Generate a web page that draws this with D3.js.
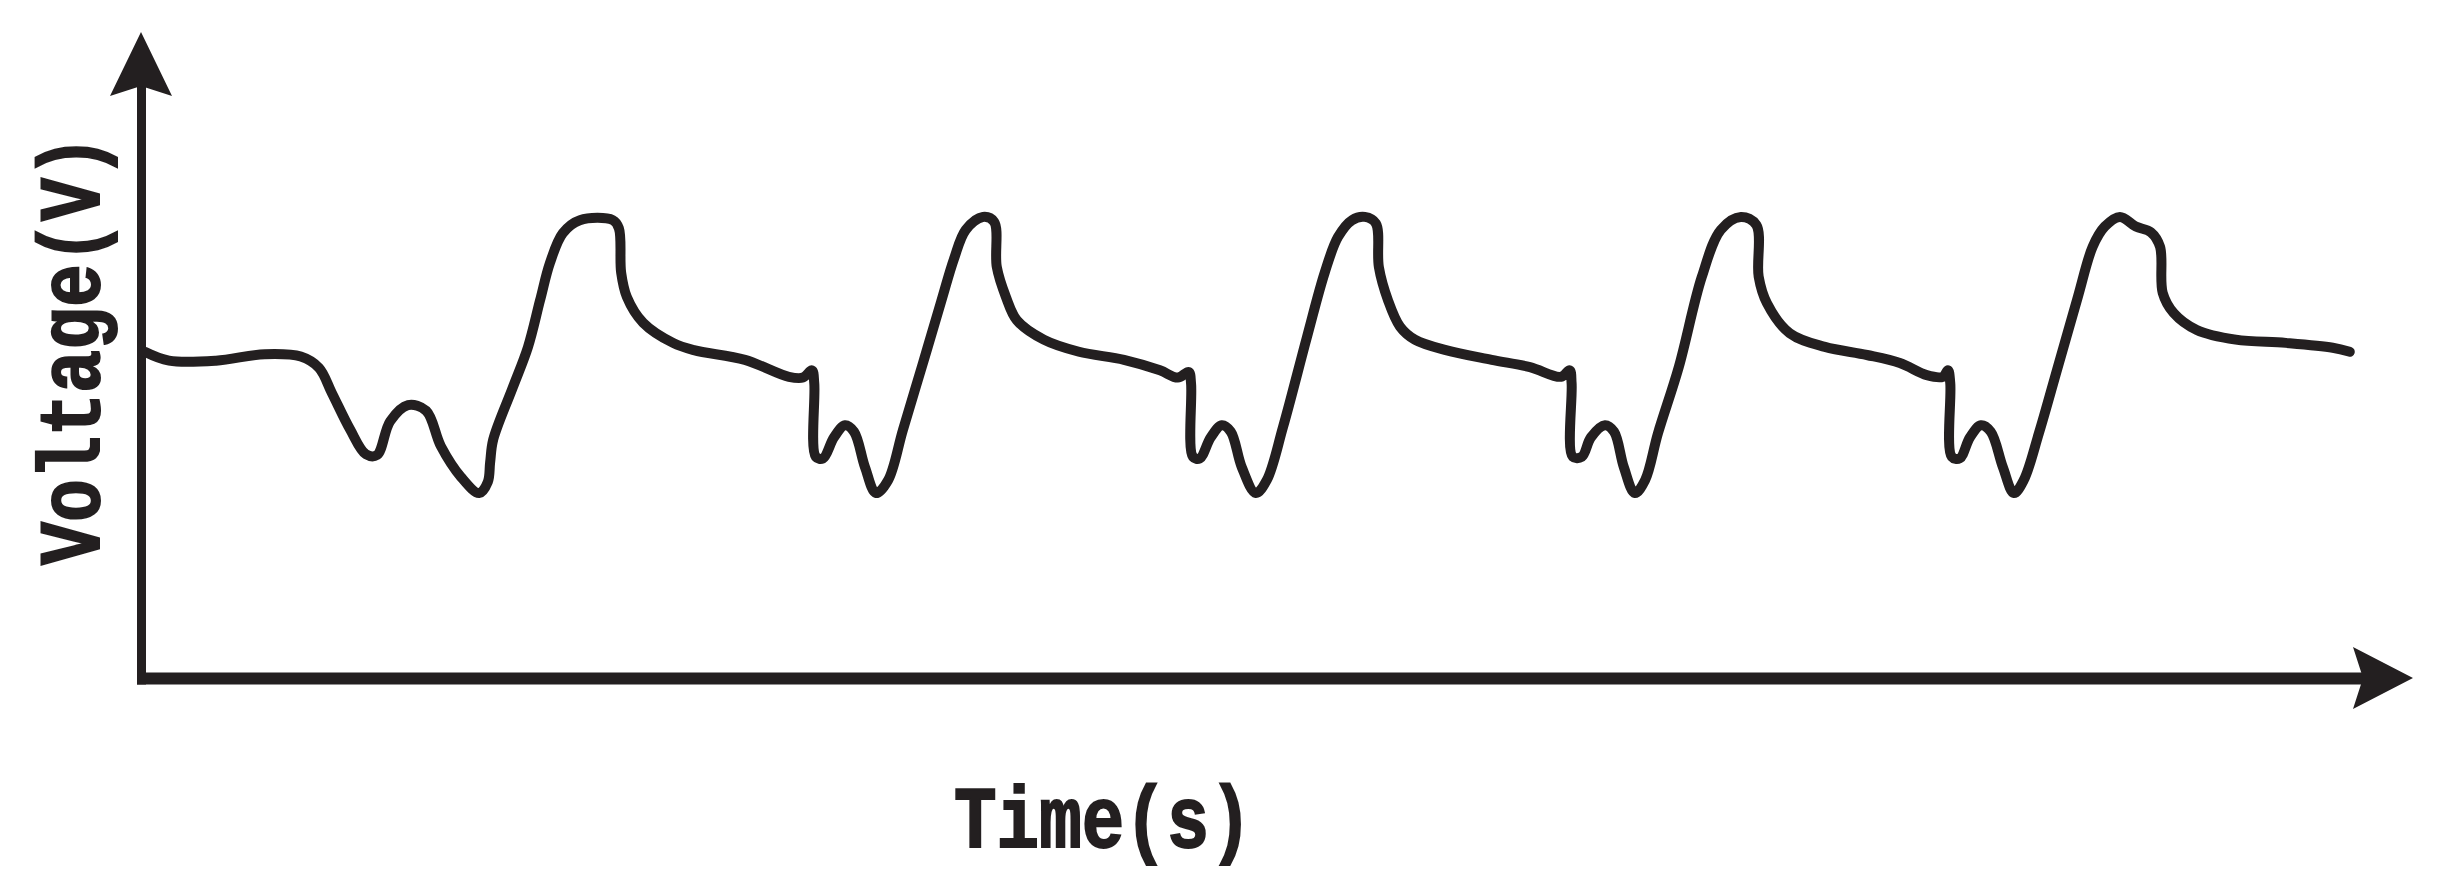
<!DOCTYPE html>
<html>
<head>
<meta charset="utf-8">
<script src="https://cdn.jsdelivr.net/npm/d3@7"></script>
<style>
  body { margin: 0; background: #fff; }
  svg { display: block; }
</style>
</head>
<body>
<div id="chart"></div>
<script>
// waveform (time in s, voltage in V, arbitrary units)
const timeS = [
  0.010, 0.074, 0.198, 0.327, 0.422, 0.470, 0.504, 0.552, 0.594, 0.623,
  0.658, 0.705, 0.753, 0.792, 0.845, 0.893, 0.916, 0.922, 0.930, 0.982,
  1.022, 1.054, 1.080, 1.114, 1.159, 1.246, 1.262, 1.268, 1.283, 1.326,
  1.405, 1.460, 1.595, 1.711, 1.748, 1.772, 1.778, 1.782, 1.801, 1.830,
  1.859, 1.883, 1.912, 1.941, 1.973, 2.012, 2.065, 2.113, 2.147, 2.178,
  2.223, 2.253, 2.260, 2.284, 2.313, 2.384, 2.477, 2.596, 2.691, 2.738,
  2.767, 2.773, 2.778, 2.796, 2.825, 2.854, 2.878, 2.907, 2.944, 2.973,
  3.016, 3.079, 3.126, 3.161, 3.198, 3.232, 3.261, 3.269, 3.293, 3.325,
  3.364, 3.446, 3.567, 3.668, 3.750, 3.773, 3.778, 3.781, 3.805, 3.829,
  3.866, 3.890, 3.916, 3.945, 3.972, 4.006, 4.061, 4.122, 4.172, 4.225,
  4.266, 4.272, 4.294, 4.354, 4.447, 4.558, 4.645, 4.716, 4.758, 4.772,
  4.778, 4.782, 4.803, 4.830, 4.859, 4.885, 4.917, 4.946, 4.972, 5.012,
  5.062, 5.115, 5.154, 5.186, 5.226, 5.268, 5.308, 5.332, 5.339, 5.368,
  5.429, 5.532, 5.664, 5.788, 5.833
];
const voltageV = [
  4.04, 3.93, 3.93, 4.01, 3.98, 3.84, 3.53, 3.08, 2.77, 2.76,
  3.18, 3.38, 3.31, 2.87, 2.49, 2.29, 2.43, 2.67, 2.95, 3.60,
  4.10, 4.68, 5.14, 5.51, 5.67, 5.67, 5.57, 5.02, 4.72, 4.40,
  4.15, 4.06, 3.94, 3.73, 3.72, 3.81, 3.65, 2.74, 2.72, 2.98,
  3.13, 3.05, 2.61, 2.29, 2.45, 3.07, 3.90, 4.66, 5.19, 5.55,
  5.71, 5.65, 5.09, 4.72, 4.43, 4.19, 4.04, 3.94, 3.81, 3.72,
  3.79, 3.65, 2.74, 2.72, 2.98, 3.13, 3.05, 2.61, 2.29, 2.45,
  3.11, 4.22, 5.02, 5.46, 5.67, 5.71, 5.63, 5.09, 4.68, 4.35,
  4.19, 4.06, 3.94, 3.85, 3.73, 3.81, 3.65, 2.74, 2.74, 2.98,
  3.13, 3.05, 2.61, 2.29, 2.45, 3.03, 3.85, 4.97, 5.55, 5.71,
  5.61, 4.97, 4.64, 4.27, 4.10, 4.00, 3.90, 3.75, 3.73, 3.81,
  3.65, 2.74, 2.72, 2.98, 3.13, 3.05, 2.61, 2.29, 2.45, 3.03,
  3.85, 4.72, 5.34, 5.59, 5.71, 5.59, 5.52, 5.34, 4.77, 4.52,
  4.31, 4.19, 4.15, 4.09, 4.04
];
const xLabel = "Time(s)";
const yLabel = "Voltage(V)";

const width = 2455, height = 890;
const ink = "#231f20";

const svg = d3.select("#chart").append("svg")
    .attr("width", width)
    .attr("height", height)
    .style("background", "#fff");

// scales: axis origin at (141, 678), arrow tips at the domain ends
const x = d3.scaleLinear().domain([0, 6]).range([141, 2413]);
const y = d3.scaleLinear().domain([0, 8]).range([678, 32]);

const arrowLen = 60, arrowHalf = 31;

// axis lines (no ticks), stopping under the arrow heads
const xAxisScale = x.copy().range([x(0) - 4.5, x(6) - arrowLen + 10]);
const yAxisScale = y.copy().range([y(0) + 6, y(8) + arrowLen - 10]);

const gx = svg.append("g")
    .attr("transform", `translate(0,${y(0)})`)
    .call(d3.axisBottom(xAxisScale).tickValues([]).tickSizeOuter(0));
const gy = svg.append("g")
    .attr("transform", `translate(${x(0)},0)`)
    .call(d3.axisLeft(yAxisScale).tickValues([]).tickSizeOuter(0));

gx.select(".domain").attr("stroke", ink).attr("stroke-width", 12);
gy.select(".domain").attr("stroke", ink).attr("stroke-width", 9);

// arrow heads
const xTip = [x(6), y(0)];
svg.append("path")
    .attr("d", `M${xTip[0]},${xTip[1]}L${xTip[0] - arrowLen},${xTip[1] - arrowHalf}L${xTip[0] - arrowLen + 10},${xTip[1]}L${xTip[0] - arrowLen},${xTip[1] + arrowHalf}Z`)
    .attr("fill", ink);
const yTip = [x(0), y(8)];
svg.append("path")
    .attr("d", `M${yTip[0]},${yTip[1]}L${yTip[0] - arrowHalf},${yTip[1] + arrowLen + 4}L${yTip[0]},${yTip[1] + arrowLen - 6}L${yTip[0] + arrowHalf},${yTip[1] + arrowLen + 4}Z`)
    .attr("fill", ink);

// waveform
const data = timeS.map((t, i) => ({t: t, v: voltageV[i]}));
const line = d3.line()
    .x(d => x(d.t))
    .y(d => y(d.v))
    .curve(d3.curveCatmullRom.alpha(0.5));

svg.append("path")
    .datum(data)
    .attr("d", line)
    .attr("fill", "none")
    .attr("stroke", ink)
    .attr("stroke-width", 10)
    .attr("stroke-linejoin", "round")
    .attr("stroke-linecap", "round");

// axis titles
const labelFont = "'Liberation Mono', 'DejaVu Sans Mono', monospace";

svg.append("text")
    .attr("x", 1103)
    .attr("y", 847)
    .attr("text-anchor", "middle")
    .attr("font-family", labelFont)
    .attr("font-weight", "bold")
    .attr("font-size", 88)
    .attr("textLength", 298)
    .attr("lengthAdjust", "spacingAndGlyphs")
    .attr("fill", ink)
    .attr("stroke", ink)
    .attr("stroke-width", 2)
    .text(xLabel);

svg.append("text")
    .attr("transform", "translate(99,350) rotate(-90)")
    .attr("text-anchor", "middle")
    .attr("font-family", labelFont)
    .attr("font-weight", "bold")
    .attr("font-size", 88)
    .attr("textLength", 430)
    .attr("lengthAdjust", "spacingAndGlyphs")
    .attr("fill", ink)
    .attr("stroke", ink)
    .attr("stroke-width", 2)
    .text(yLabel);
</script>
</body>
</html>
